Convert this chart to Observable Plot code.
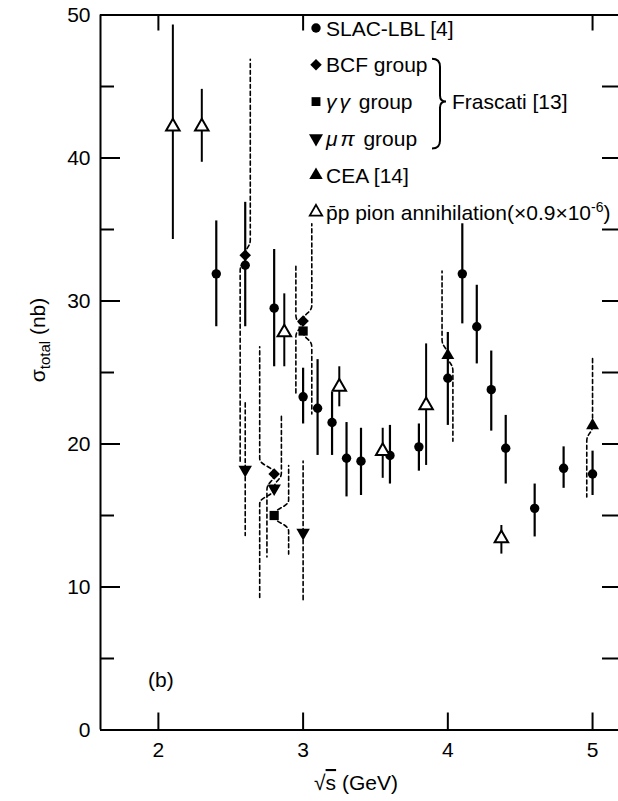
<!DOCTYPE html>
<html>
<head>
<meta charset="utf-8">
<style>
html, body { margin: 0; padding: 0; background: #fff; overflow: hidden; }
#chart svg { display: block; }
</style>
<script src="https://cdn.jsdelivr.net/npm/d3@7"></script>
<script src="https://cdn.jsdelivr.net/npm/@observablehq/plot@0.6"></script>
</head>
<body>
<div id="chart"></div>
<script>
// ---------- tick labels ----------
const xTickValues = [2, 3, 4, 5];
const xTopTicks = [2, 3, 5];
const yTickLabels = [0, 10, 20, 30, 40, 50];
const yTickMarks = [5, 10, 15, 20, 25, 30, 35, 40, 45];

// ---------- SLAC-LBL [4] (filled circles, solid bars) ----------
const slacX  = [2.4, 2.6, 2.8, 3.0, 3.1, 3.2, 3.3, 3.4, 3.6, 3.8, 4.0, 4.1, 4.2, 4.3, 4.4, 4.6, 4.8, 5.0];
const slacY  = [31.9, 32.5, 29.5, 23.3, 22.5, 21.5, 19.0, 18.8, 19.2, 19.8, 24.6, 31.9, 28.2, 23.8, 19.7, 15.5, 18.3, 17.9];
const slacHi = [35.6, 36.9, 33.6, 25.3, 25.9, 23.6, 21.5, 21.1, 21.3, 21.4, 27.8, 35.4, 31.1, 26.5, 22.0, 17.2, 19.8, 19.5];
const slacLo = [28.2, 28.2, 25.4, 21.4, 19.2, 19.2, 16.3, 16.4, 17.2, 18.1, 21.3, 28.4, 25.6, 20.9, 17.2, 13.5, 16.9, 16.4];

// ---------- p-bar p pion annihilation (open triangles, solid bars) ----------
const ppX  = [2.1, 2.3, 2.87, 3.25, 3.55, 3.85, 4.37];
const ppY  = [42.2, 42.2, 27.8, 24.0, 19.5, 22.7, 13.4];
const ppHi = [49.3, 44.8, 30.5, 25.4, 21.1, 27.0, 14.3];
const ppLo = [34.3, 39.7, 25.4, 22.6, 17.6, 18.5, 12.3];

// ---------- Frascati [13] (dashed bars) ----------
const bcfX = [2.6, 2.8, 3.0];
const bcfY = [33.2, 17.9, 28.6];
const bcfHi = [46.9, 26.8, 35.4];
const bcfLo = [18.8, 12.1, 23.5];
const bcfHiBarX = [2.635, 2.70, 3.06];
const bcfLoBarX = [2.565, 2.75, 2.95];

const ggX = [2.8, 3.0];
const ggY = [15.0, 27.9];
const ggHi = [18.5, 32.6];
const ggLo = [12.3, 22.1];
const ggHiBarX = [2.90, 2.95];
const ggLoBarX = [2.90, 3.06];

const mpX = [2.6, 2.8, 3.0];
const mpY = [18.2, 16.9, 13.8];
const mpHi = [23.0, 22.0, 18.8];
const mpLo = [13.6, 9.1, 9.1];
const mpHiBarX = [2.60, 2.85, 3.00];
const mpLoBarX = [2.60, 2.70, 3.00];

// ---------- CEA [14] (filled triangles, dashed bars) ----------
const ceaX = [4.0, 5.0];
const ceaY = [26.2, 21.3];
const ceaHi = [32.1, 26.1];
const ceaLo = [20.2, 16.3];
const ceaHiBarX = [3.96, 5.0];
const ceaLoBarX = [4.035, 4.96];

// ---------- legend ----------
const legendLabels = ["SLAC-LBL [4]", "BCF group", "γγ group", "μπ group", "CEA [14]", "p̄p pion annihilation(×0.9×10"];
const legendSup = "-6";
const groupLabel = "Frascati [13]";
const panelLabel = "(b)";
const xLabel = ["√", "s", " (GeV)"];
const yLabel = ["σ", "total", " (nb)"];

// ---------- layout ----------
const FONT = "'Liberation Sans', Arial, Helvetica, sans-serif";
const W = 618, H = 801;
const mL = 100, mR = -3, mT = 14.5, mB = 71.5;
const xDomain = [1.6, 5.2], yDomain = [0, 50];
const dataPerPxX = (xDomain[1] - xDomain[0]) / (W - mR - mL);
const dataPerPxY = (yDomain[1] - yDomain[0]) / (H - mB - mT);

function rows(xs, ys, his, los) {
  return xs.map((x, i) => ({x, y: ys[i], hi: his[i], lo: los[i]}));
}
function dashedBars(group, xs, ys, his, los, hiXs, loXs) {
  const out = [];
  xs.forEach((x, i) => {
    const y = ys[i];
    [[his[i], hiXs[i], 1], [los[i], loXs[i], -1]].forEach(([end, bx, dir], k) => {
      const id = group + "-" + i + "-" + k;
      const bend = Math.min(1.1, Math.abs(end - y) / 2);
      out.push({id, x, y});
      if (bx !== x) out.push({id, x: bx, y: y + dir * bend});
      out.push({id, x: bx, y: end});
    });
  });
  return out;
}

const slac = rows(slacX, slacY, slacHi, slacLo);
const pp = rows(ppX, ppY, ppHi, ppLo);
const bcf = rows(bcfX, bcfY, bcfHi, bcfLo);
const gg = rows(ggX, ggY, ggHi, ggLo);
const mp = rows(mpX, mpY, mpHi, mpLo);
const cea = rows(ceaX, ceaY, ceaHi, ceaLo);
const dashed = [
  ...dashedBars("bcf", bcfX, bcfY, bcfHi, bcfLo, bcfHiBarX, bcfLoBarX),
  ...dashedBars("gg", ggX, ggY, ggHi, ggLo, ggHiBarX, ggLoBarX),
  ...dashedBars("mp", mpX, mpY, mpHi, mpLo, mpHiBarX, mpLoBarX),
  ...dashedBars("cea", ceaX, ceaY, ceaHi, ceaLo, ceaHiBarX, ceaLoBarX)
];

const majorLen = 20, minorLen = 14, rightLen = 19, bottomLen = 17, topLen = 16;

const chart = Plot.plot({
  width: W, height: H,
  marginLeft: mL, marginRight: mR, marginTop: mT, marginBottom: mB,
  x: {domain: xDomain, axis: null},
  y: {domain: yDomain, axis: null},
  style: {fontFamily: FONT, fontSize: "21px", color: "black", background: "white"},
  marks: [
    // frame
    Plot.ruleY([yDomain[0]], {strokeWidth: 2}),
    Plot.ruleY([yDomain[1]], {strokeWidth: 2}),
    Plot.ruleX([xDomain[0]], {strokeWidth: 2}),
    // inward ticks
    Plot.ruleY(yTickMarks, {x1: xDomain[0], x2: d => xDomain[0] + (d % 10 === 0 ? majorLen : minorLen) * dataPerPxX, strokeWidth: 2}),
    Plot.ruleY(yTickMarks, {x1: xDomain[1], x2: xDomain[1] - rightLen * dataPerPxX, strokeWidth: 2}),
    Plot.ruleX(xTickValues, {y1: yDomain[0], y2: yDomain[0] + bottomLen * dataPerPxY, strokeWidth: 2}),
    Plot.ruleX(xTopTicks, {y1: yDomain[1], y2: yDomain[1] - topLen * dataPerPxY, strokeWidth: 2}),
    // tick labels
    Plot.axisY({ticks: yTickLabels, tickSize: 0, tickPadding: 10, label: null, fontSize: 21, tickFormat: d => String(d)}),
    Plot.axisX({ticks: xTickValues, tickSize: 0, tickPadding: 12, label: null, fontSize: 21, tickFormat: d => String(d)}),
    // error bars
    Plot.ruleX(slac, {x: "x", y1: "lo", y2: "hi", strokeWidth: 2.2}),
    Plot.ruleX(pp, {x: "x", y1: "lo", y2: "hi", strokeWidth: 2}),
    Plot.line(dashed, {x: "x", y: "y", z: "id", curve: "bump-y", strokeWidth: 1.6, strokeDasharray: "4,3"}),
    // markers
    Plot.dot(slac, {x: "x", y: "y", r: 4.7, fill: "black", symbol: "circle"}),
    Plot.dot(pp, {x: "x", y: "y", r: 5, fill: "white", stroke: "black", strokeWidth: 2, symbol: "triangle"}),
    Plot.dot(cea, {x: "x", y: "y", r: 4.8, fill: "black", symbol: "triangle"}),
    Plot.dot(mp, {x: "x", y: "y", r: 5, fill: "black", symbol: "triangle", rotate: 180}),
    Plot.dot(gg, {x: "x", y: "y", r: 5.2, fill: "black", symbol: "square"}),
    Plot.dot(bcf, {x: "x", y: "y", r: 4.6, fill: "black", symbol: "square", rotate: 45})
  ]
});
document.getElementById("chart").appendChild(chart);

// ---------- annotations drawn on top of the Plot SVG ----------
const svg = d3.select(chart);
const g = svg.append("g")
  .attr("font-family", FONT).attr("font-size", 21).attr("fill", "black")
  .attr("text-anchor", "start");

const legendY0 = 28, legendStep = 36.8, symX = 316, textX = 326;
const area = r => Math.PI * r * r;
const legendSymbols = [
  {type: d3.symbolCircle, r: 4.7, rot: 0, fill: "black"},
  {type: d3.symbolSquare, r: 4.6, rot: 45, fill: "black"},
  {type: d3.symbolSquare, r: 5.0, rot: 0, fill: "black"},
  {type: d3.symbolTriangle, r: 5.2, rot: 180, fill: "black"},
  {type: d3.symbolTriangle, r: 5.0, rot: 0, fill: "black"},
  {type: d3.symbolTriangle, r: 4.6, rot: 0, fill: "white"}
];
legendLabels.forEach((label, i) => {
  const y = legendY0 + i * legendStep;
  const s = legendSymbols[i];
  g.append("path")
    .attr("d", d3.symbol().type(s.type).size(area(s.r))())
    .attr("transform", `translate(${symX},${y}) rotate(${s.rot})`)
    .attr("fill", s.fill).attr("stroke", "black").attr("stroke-width", s.fill === "white" ? 1.8 : 0);
  const t = g.append("text").attr("x", textX).attr("y", y).attr("dy", "0.36em").attr("text-anchor", "start");
  if (i === 2 || i === 3) {
    t.append("tspan").attr("font-style", "italic").attr("letter-spacing", "3px").text(label.slice(0, 2));
    t.append("tspan").text(label.slice(2));
  } else if (i === 5) {
    t.append("tspan").text(label);
    t.append("tspan").attr("font-size", 14).attr("dy", "-0.55em").text(legendSup);
    t.append("tspan").attr("dy", "0.38em").text(")");
  } else {
    t.text(label);
  }
});
// bracket for Frascati
const by0 = legendY0 + legendStep - 6, by1 = legendY0 + 3 * legendStep + 10, bym = legendY0 + 2 * legendStep;
g.append("path")
  .attr("d", `M432,${by0} Q440,${by0} 440,${by0 + 8} L440,${bym - 6} Q440,${bym} 446,${bym} Q440,${bym} 440,${bym + 6} L440,${by1 - 8} Q440,${by1} 432,${by1}`)
  .attr("fill", "none").attr("stroke", "black").attr("stroke-width", 2);
g.append("text").attr("x", 452).attr("y", bym).attr("dy", "0.36em").attr("text-anchor", "start").text(groupLabel);

// panel label
g.append("text").attr("x", 148).attr("y", 687).attr("text-anchor", "start").text(panelLabel);

// x axis title
const xl = g.append("text").attr("x", 356).attr("y", 790).attr("text-anchor", "middle");
xl.append("tspan").text(xLabel[0]);
xl.append("tspan").attr("text-decoration", "overline").text(xLabel[1]);
xl.append("tspan").text(xLabel[2]);

// y axis title
const yl = g.append("text").attr("transform", "translate(45,340) rotate(-90)").attr("text-anchor", "middle");
yl.append("tspan").text(yLabel[0]);
yl.append("tspan").attr("font-size", 15).attr("dy", 5).text(yLabel[1]);
yl.append("tspan").attr("dy", -5).text(yLabel[2]);
</script>
</body>
</html>
